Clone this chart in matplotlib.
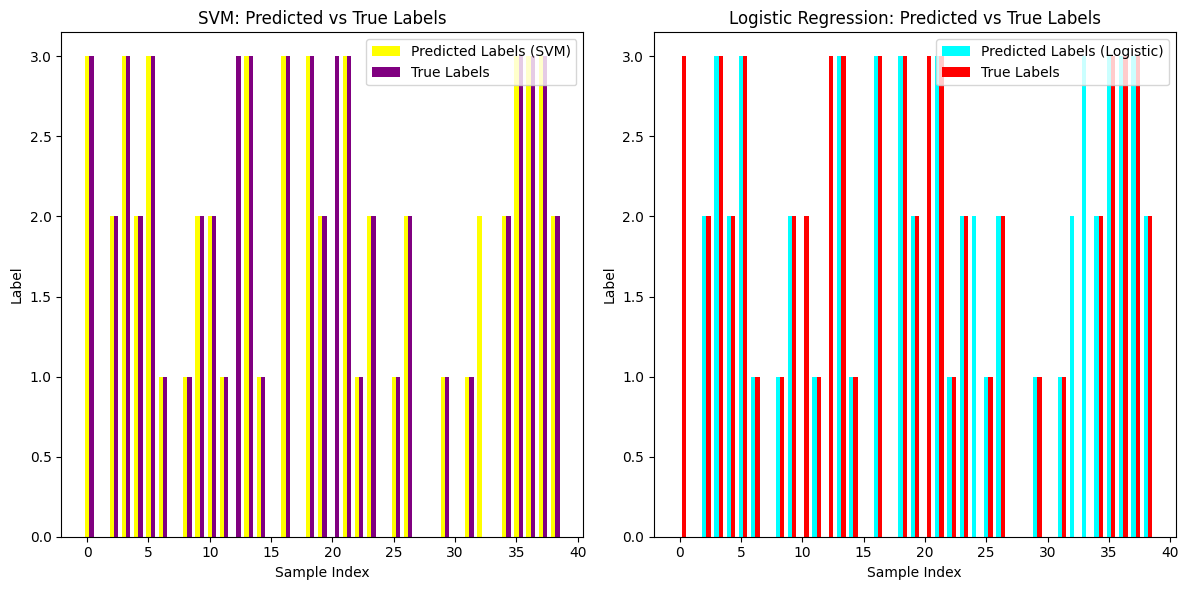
import numpy as np
import matplotlib.pyplot as plt

true_labels = [3, 0, 2, 3, 2, 3, 1, 0, 1, 2, 2, 1, 3, 3, 1, 0, 3, 0, 3, 2,
               3, 3, 1, 2, 0, 1, 2, 0, 0, 1, 0, 1, 0, 0, 2, 3, 3, 3, 2]
svm_pred = [3, 0, 2, 3, 2, 3, 1, 0, 1, 2, 2, 1, 0, 3, 1, 0, 3, 0, 3, 2,
            0, 3, 1, 2, 0, 1, 2, 0, 0, 1, 0, 1, 2, 0, 2, 3, 3, 3, 2]
log_pred = [0, 0, 2, 3, 2, 3, 1, 0, 1, 2, 0, 1, 0, 3, 1, 0, 3, 0, 3, 2,
            0, 3, 1, 2, 2, 1, 2, 0, 0, 1, 0, 1, 2, 3, 2, 3, 3, 3, 2]

x = np.arange(len(true_labels))
width = 0.35

fig, (ax1, ax2) = plt.subplots(1, 2, figsize=(12, 6))

ax1.bar(x, svm_pred, width, color='yellow', label='Predicted Labels (SVM)')
ax1.bar(x + width, true_labels, width, color='purple', label='True Labels')
ax1.set_title('SVM: Predicted vs True Labels')
ax1.set_xlabel('Sample Index')
ax1.set_ylabel('Label')
ax1.legend(loc='upper right')

ax2.bar(x, log_pred, width, color='cyan', label='Predicted Labels (Logistic)')
ax2.bar(x + width, true_labels, width, color='red', label='True Labels')
ax2.set_title('Logistic Regression: Predicted vs True Labels')
ax2.set_xlabel('Sample Index')
ax2.set_ylabel('Label')
ax2.legend(loc='upper right')

plt.tight_layout()
plt.savefig('out.png', dpi=100, bbox_inches='tight')
